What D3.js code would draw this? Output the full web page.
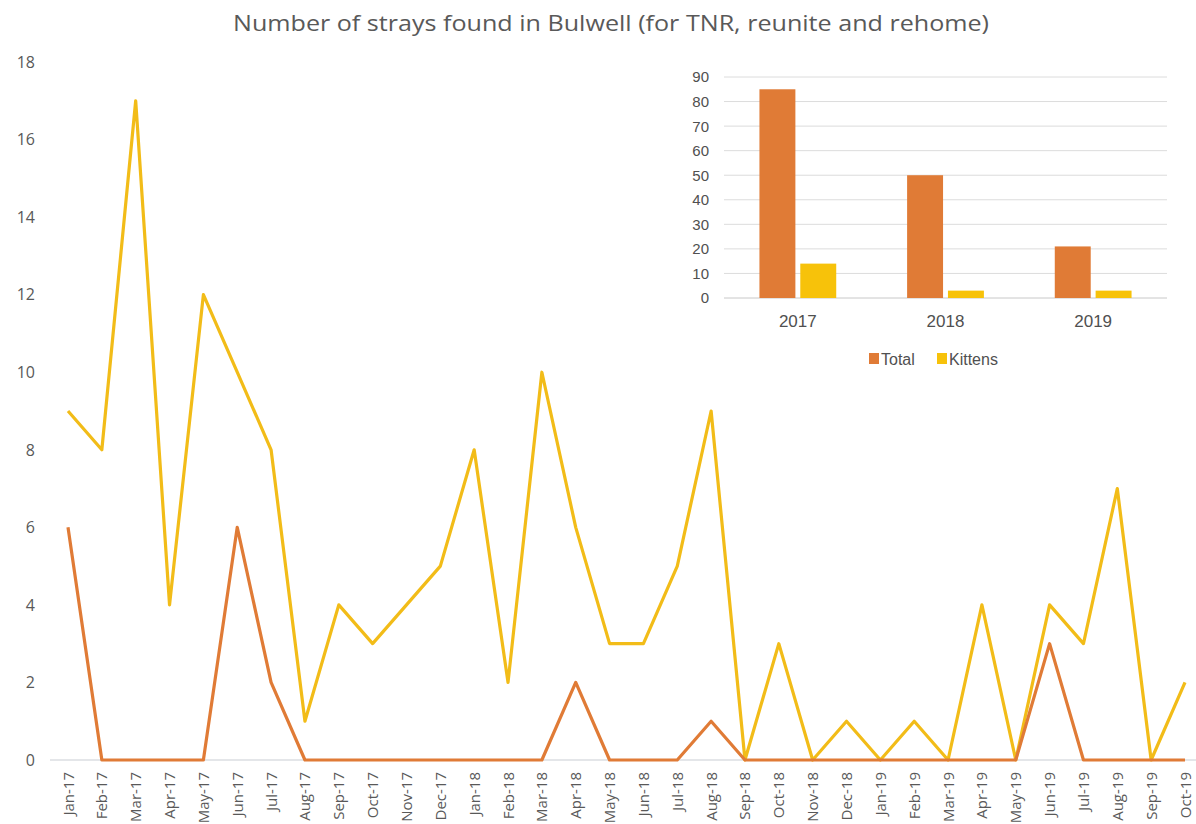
<!DOCTYPE html>
<html>
<head>
<meta charset="utf-8">
<script src="https://cdn.jsdelivr.net/npm/d3@7"></script>
<style>
  html, body { margin: 0; padding: 0; background: #fff; }
  svg { display: block; }
</style>
</head>
<body>
<svg id="chart" width="1196" height="824"></svg>
<script>
// Monthly stray counts, Jan 2017 – Oct 2019
const months = ["Jan-17","Feb-17","Mar-17","Apr-17","May-17","Jun-17","Jul-17","Aug-17","Sep-17","Oct-17","Nov-17","Dec-17",
                "Jan-18","Feb-18","Mar-18","Apr-18","May-18","Jun-18","Jul-18","Aug-18","Sep-18","Oct-18","Nov-18","Dec-18",
                "Jan-19","Feb-19","Mar-19","Apr-19","May-19","Jun-19","Jul-19","Aug-19","Sep-19","Oct-19"];
const totalMonthly   = [9,8,17,4,12,10,8,1,4,3,4,5, 8,2,10,6,3,3,5,9,0,3,0,1, 0,1,0,4,0,4,3,7,0,2];
const kittensMonthly = [6,0,0,0,0,6,2,0,0,0,0,0, 0,0,0,2,0,0,0,1,0,0,0,0, 0,0,0,0,0,3,0,0,0,0];
const mainYTicks = [0,2,4,6,8,10,12,14,16,18];

// Yearly totals for the inset
const years = ["2017","2018","2019"];
const totalYearly   = [85,50,21];
const kittensYearly = [14,3,3];
const insetYTicks = [0,10,20,30,40,50,60,70,80,90];
const seriesNames = ["Total","Kittens"];

const colorTotal = "#F2BC18";
const colorKittens = "#E07B36";
const colorBarKittens = "#F7C20A";
const textGray = "#595959";

const svg = d3.select("#chart");

// Title
svg.append("text")
  .attr("x", 611).attr("y", 31)
  .attr("text-anchor", "middle")
  .attr("font-family", "'Open Sans', sans-serif")
  .attr("font-size", 22)
  .attr("fill", textGray)
  .attr("textLength", 756)
  .attr("lengthAdjust", "spacingAndGlyphs")
  .text("Number of strays found in Bulwell (for TNR, reunite and rehome)");

// Main line chart
const x = d3.scalePoint().domain(months).range([68, 1185]);
const y = d3.scaleLinear().domain([0, 18]).range([760, 62]);

// baseline
svg.append("line")
  .attr("x1", 50).attr("x2", 1200)
  .attr("y1", y(0)).attr("y2", y(0))
  .attr("stroke", "#c9cdd3").attr("stroke-width", 1);

// y tick labels
svg.append("g").selectAll("text")
  .data(mainYTicks).join("text")
  .attr("x", 35).attr("y", d => y(d))
  .attr("dy", "0.36em")
  .attr("text-anchor", "end")
  .attr("font-family", "'Open Sans', sans-serif")
  .attr("font-size", 16)
  .attr("fill", textGray)
  .text(d => d);

// x tick labels, rotated
svg.append("g").selectAll("text")
  .data(months).join("text")
  .attr("transform", d => `translate(${x(d) + 5.5},772) rotate(-90)`)
  .attr("text-anchor", "end")
  .attr("font-family", "'Open Sans', sans-serif")
  .attr("font-size", 15)
  .attr("fill", textGray)
  .text(d => d);

const line = d3.line()
  .x((d, i) => x(months[i]))
  .y(d => y(d));

svg.append("path")
  .datum(totalMonthly)
  .attr("d", line)
  .attr("fill", "none")
  .attr("stroke", colorTotal)
  .attr("stroke-width", 3.2)
  .attr("stroke-linejoin", "round");

svg.append("path")
  .datum(kittensMonthly)
  .attr("d", line)
  .attr("fill", "none")
  .attr("stroke", colorKittens)
  .attr("stroke-width", 3.2)
  .attr("stroke-linejoin", "round");

// Inset: yearly bar chart
const inset = svg.append("g");
const ix0 = d3.scaleBand().domain(years).range([724, 1167]).paddingInner(0.48).paddingOuter(0.24);
const ix1 = d3.scaleBand().domain(seriesNames).range([0, ix0.bandwidth()]).paddingInner(0.12);
const iy = d3.scaleLinear().domain([0, 90]).range([298, 77]);

inset.append("g").selectAll("line")
  .data(insetYTicks).join("line")
  .attr("x1", 724).attr("x2", 1167)
  .attr("y1", d => iy(d)).attr("y2", d => iy(d))
  .attr("stroke", d => d === 0 ? "#c8c8c8" : "#dcdcdc")
  .attr("stroke-width", 1);

inset.append("g").selectAll("text")
  .data(insetYTicks).join("text")
  .attr("x", 709).attr("y", d => iy(d))
  .attr("dy", "0.36em")
  .attr("text-anchor", "end")
  .attr("font-family", "'Liberation Sans', Arial, sans-serif")
  .attr("font-size", 15)
  .attr("fill", "#505050")
  .text(d => d);

const barData = years.flatMap((yr, i) => [
  { year: yr, series: "Total", value: totalYearly[i] },
  { year: yr, series: "Kittens", value: kittensYearly[i] }
]);

inset.append("g").selectAll("rect")
  .data(barData).join("rect")
  .attr("x", d => ix0(d.year) + ix1(d.series))
  .attr("width", ix1.bandwidth())
  .attr("y", d => iy(d.value))
  .attr("height", d => iy(0) - iy(d.value))
  .attr("fill", d => d.series === "Total" ? colorKittens : colorBarKittens);

inset.append("g").selectAll("text")
  .data(years).join("text")
  .attr("x", d => ix0(d) + ix0.bandwidth() / 2)
  .attr("y", 327)
  .attr("text-anchor", "middle")
  .attr("font-family", "'Liberation Sans', Arial, sans-serif")
  .attr("font-size", 17)
  .attr("fill", "#505050")
  .text(d => d);

// legend
const legend = inset.append("g");
const legendItems = [
  { name: "Total", color: colorKittens, x: 869 },
  { name: "Kittens", color: colorBarKittens, x: 937 }
];
legendItems.forEach(it => {
  legend.append("rect")
    .attr("x", it.x).attr("y", 353)
    .attr("width", 10).attr("height", 11)
    .attr("fill", it.color);
  legend.append("text")
    .attr("x", it.x + 12).attr("y", 365)
    .attr("font-family", "'Liberation Sans', Arial, sans-serif")
    .attr("font-size", 16)
    .attr("fill", "#505050")
    .text(it.name);
});
</script>
</body>
</html>
